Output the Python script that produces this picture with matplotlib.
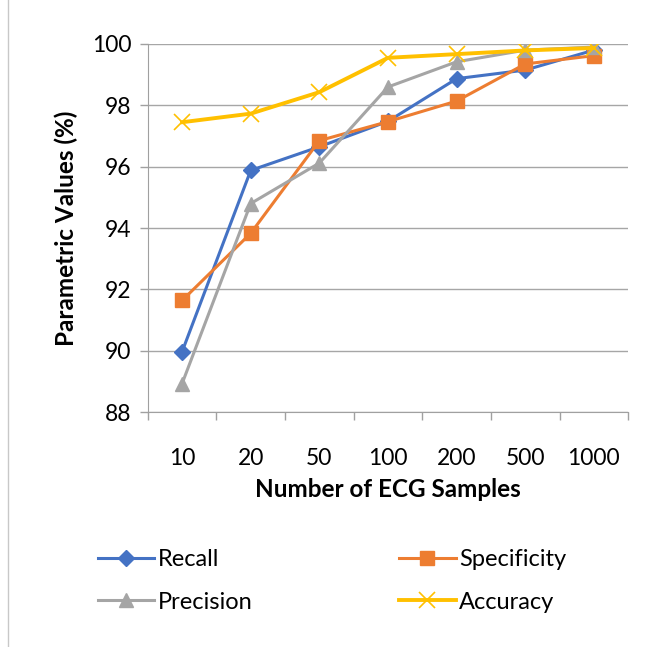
import matplotlib.pyplot as plt
from matplotlib.patches import Rectangle

plt.rcParams['font.family'] = ['Lato', 'DejaVu Sans']

samples = ['10', '20', '50', '100', '200', '500', '1000']
recall = [89.97, 95.88, 96.65, 97.48, 98.87, 99.15, 99.8]
specificity = [91.64, 93.83, 96.85, 97.47, 98.14, 99.35, 99.62]
precision = [88.93, 94.8, 96.12, 98.6, 99.42, 99.8, 99.9]
accuracy = [97.45, 97.73, 98.43, 99.55, 99.67, 99.79, 99.87]

fig = plt.figure(figsize=(6.51, 6.47), dpi=100)
ax = fig.add_axes([0.227, 0.363, 0.738, 0.569])

x = list(range(len(samples)))
l1, = ax.plot(x, recall, color='#4472C4', marker='D', markersize=8, linewidth=2.2, label='Recall')
l2, = ax.plot(x, specificity, color='#ED7D31', marker='s', markersize=10, linewidth=2.2, label='Specificity')
l3, = ax.plot(x, precision, color='#A5A5A5', marker='^', markersize=10, linewidth=2.2, label='Precision')
l4, = ax.plot(x, accuracy, color='#FFC000', marker='x', markersize=11, markeredgewidth=1.2,
              linewidth=2.8, label='Accuracy')

ax.set_xlim(-0.5, len(samples) - 0.5)
ax.set_ylim(88, 100)
ax.set_yticks([88, 90, 92, 94, 96, 98, 100])
ax.set_xticks(x)
ax.set_xticklabels(samples)
ax.set_xticks([i - 0.5 for i in range(len(samples) + 1)], minor=True)
ax.tick_params(axis='x', which='major', length=0, pad=26, labelsize=16.5)
ax.tick_params(axis='x', which='minor', length=6, color='#A0A0A0', width=1)
ax.tick_params(axis='y', length=6, color='#A0A0A0', width=1, labelsize=16.5, pad=6)

ax.grid(axis='y', color='#A6A6A6', linewidth=1)
ax.set_axisbelow(True)
for s in ['top', 'right']:
    ax.spines[s].set_visible(False)
ax.spines['left'].set_color('#A0A0A0')
ax.spines['bottom'].set_color('#A0A0A0')

ax.set_xlabel('Number of ECG Samples', fontsize=17.5, fontweight='bold', labelpad=6)
ax.set_ylabel('Parametric Values (%)', fontsize=17.5, fontweight='bold', labelpad=10)

# row-wise order like the original: Recall, Specificity / Precision, Accuracy
fig.legend([l1, l3, l2, l4], ['Recall', 'Precision', 'Specificity', 'Accuracy'],
           loc='center', bbox_to_anchor=(0.51, 0.102), ncol=2, frameon=False,
           fontsize=17, handlelength=2.4, columnspacing=6.2, labelspacing=0.9,
           handletextpad=0.15)

fig.patches.append(Rectangle((0.012, -0.01), 1.0, 1.02, transform=fig.transFigure,
                             fill=False, edgecolor='#C8C8C8', linewidth=1))

fig.savefig('out.png', dpi=100)
